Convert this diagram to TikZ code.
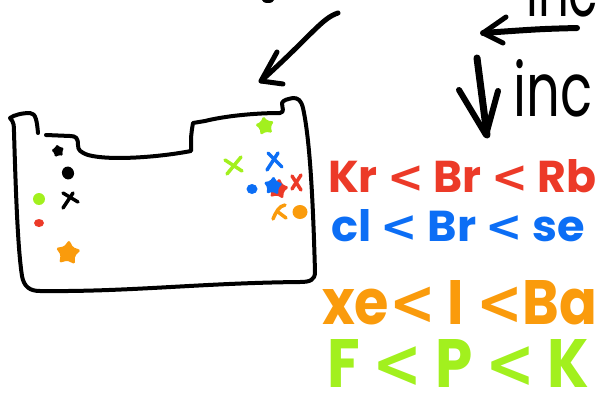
\documentclass[tikz,border=0pt]{standalone}
\usepackage{fontspec}
\setmainfont{Poppins}
\newfontfamily\ltfont{DejaVu Sans}
\newcommand{\lt}{{\ltfont\bfseries <}}
\usetikzlibrary{shapes.geometric}
\definecolor{cred}{RGB}{236,58,40}
\definecolor{cblue}{RGB}{12,110,245}
\definecolor{corange}{RGB}{250,155,12}
\definecolor{cgreen}{RGB}{162,240,30}
\begin{document}
\begin{tikzpicture}[x=1pt,y=-1pt,
  pen/.style={line width=#1, line cap=round, line join=round},
  pen/.default=4pt,
  stardot/.style={star, star points=5, star point ratio=1.7, fill=#1, inner sep=0pt, rounded corners=1.5pt},
  dot/.style={circle, fill=#1, inner sep=0pt},
  txt/.style={inner sep=0pt, font=\bfseries},
  big/.style={inner sep=0pt, font=\fontsize{40}{40}\selectfont}]
\useasboundingbox (0,0) rectangle (597,396);
\clip (0,0) rectangle (597,396);

% table outline
\draw[pen=4pt] (38,133) .. controls (37,122) and (36,113) .. (30,113)
  .. controls (22,113) and (14,115) .. (10,118)
  .. controls (14,122) and (14,126) .. (14,132)
  .. controls (16,200) and (18,250) .. (22,276)
  .. controls (24,287) and (30,291) .. (40,291)
  .. controls (130,292) and (200,283) .. (300,282)
  .. controls (310,282) and (315,280) .. (315,272)
  .. controls (313,200) and (310,140) .. (303,108)
  .. controls (301,100) and (298,98) .. (293,98)
  .. controls (288,99) and (283,100) .. (282,103)
  .. controls (282,108) and (285,112) .. (280,113)
  .. controls (255,113) and (225,116) .. (205,121)
  -- (193,123)
  .. controls (191,135) .. (191,151)
  .. controls (160,157) and (110,161) .. (88,155)
  .. controls (80,152) and (78,150) .. (78,145)
  .. controls (78,138) and (76,136) .. (70,136)
  -- (46,135);

% arrows
\draw[pen=5pt] (338,13) .. controls (322,18) and (312,35) .. (261,81);
\draw[pen=5pt] (277,52) -- (261,81) -- (283,84);
\draw[pen=6pt] (577,28) .. controls (540,29) .. (483,33);
\draw[pen=5pt] (506,17) -- (483,33) -- (503,43);
\draw[pen=7pt] (477,58) -- (487,135);
\draw[pen=6pt] (459,90) -- (486,135) -- (498,91);
\fill (268,0) ellipse (6 and 3);

% inc labels
\node[big, anchor=south west] (inctop) at (526,17) {\resizebox{72pt}{57pt}{inc}};
\node[big, anchor=south west] (incbot) at (513,117) {\resizebox{79pt}{57pt}{inc}};

% symbols in the table
\node[stardot=black, minimum size=14pt, rotate=10] (bs) at (58,151) {};
\node[dot=black, minimum width=12pt, minimum height=13pt, ellipse, rotate=20] (bd) at (68,173) {};
\draw[pen=3.5pt] (63,193) -- (78,202);
\draw[pen=3.5pt] (73,193) -- (63,208);
\node[dot=cgreen, minimum size=12pt] (gd) at (39,199) {};
\node[dot=cred, ellipse, minimum width=10pt, minimum height=8pt] (rd) at (39,223) {};
\node[stardot=corange, minimum size=26pt, rotate=-5] (os) at (68,253) {};

\node[stardot=cgreen, minimum size=20pt, rotate=10] (gs) at (265,126) {};
\draw[pen=3.5pt, cgreen] (227,174) -- (241,157);
\draw[pen=3.5pt, cgreen] (225,160) -- (242,171);
\draw[pen=3.5pt, cblue] (268,153) -- (282,167);
\draw[pen=3.5pt, cblue] (278,153) -- (267,170);
\node[dot=cblue, ellipse, minimum width=11pt, minimum height=10pt] (bld) at (252,189) {};
\node[stardot=cred, minimum size=22pt, rotate=-8] (rs) at (278,189) {};
\node[stardot=cblue, minimum size=20pt, rotate=-4] (bls) at (273,186) {};
\draw[pen=3.5pt, cred] (292,176) -- (301,190);
\draw[pen=3.5pt, cred] (301,175) -- (292,189);
\draw[pen=3.5pt, corange] (273,219) .. controls (276,212) and (279,206) .. (285,205);
\draw[pen=3.5pt, corange] (278,212) -- (286,218);
\node[dot=corange, ellipse, minimum width=15pt, minimum height=14pt] (od) at (300,212) {};

% trend lines
\node[txt, text=cred, anchor=south west] (l1) at (328,193) {\resizebox{268pt}{33pt}{Kr \lt{} Br \lt{} Rb}};
\node[txt, text=cblue, anchor=south west] (l2) at (331,242) {\resizebox{254pt}{32pt}{cl \lt{} Br \lt{} se}};
\node[txt, text=corange, anchor=south west] (l3) at (322,325) {\resizebox{275pt}{44pt}{xe\lt{} I \lt{}Ba}};
\node[txt, text=cgreen, anchor=south west] (l4) at (327,388) {\resizebox{262pt}{48pt}{F \lt{} P \lt{} K}};
\end{tikzpicture}
\end{document}
